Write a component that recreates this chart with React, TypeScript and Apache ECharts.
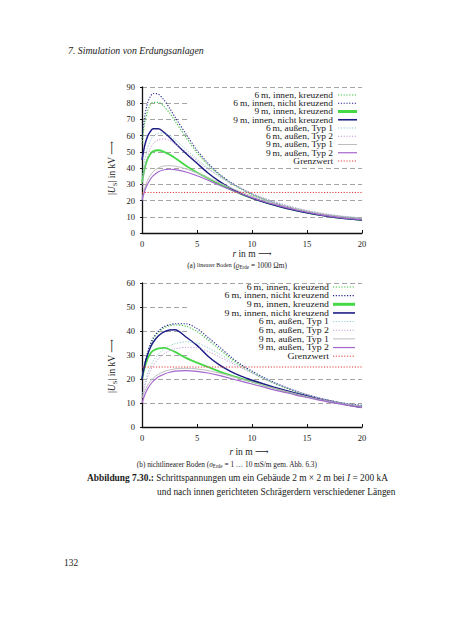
import React, { useEffect, useRef } from "react";
import * as echarts from "echarts";

// ---------- data ----------
const R = [0, 0.25, 0.5, 0.75, 1, 1.5, 2, 2.5, 3, 4, 5, 6, 7, 8, 9, 10, 11, 12, 13, 14, 15, 16, 17, 18, 19, 20];

const SERIES_NAMES = [
  "6\u2009m, innen, kreuzend",
  "6\u2009m, innen, nicht kreuzend",
  "9\u2009m, innen, kreuzend",
  "9\u2009m, innen, nicht kreuzend",
  "6\u2009m, außen, Typ 1",
  "6\u2009m, außen, Typ 2",
  "9\u2009m, außen, Typ 1",
  "9\u2009m, außen, Typ 2",
];
const GRENZ_NAME = "Grenzwert";
const GRENZWERT = 25;

// (a) linearer Boden
const lin6InnenKreuz = [55, 68, 75, 79, 80.5, 80.5, 78, 74, 69, 59, 49.5, 42, 36, 31, 27, 23.5, 21, 18.5, 16.5, 14.8, 13.3, 12, 11, 10.2, 9.5, 9];
const lin6InnenNicht = [58, 72, 80, 84, 86, 85.5, 82, 77, 71.5, 61, 51, 43, 36.5, 31.5, 27.5, 24, 21.2, 18.7, 16.6, 14.8, 13.3, 12, 11, 10.2, 9.5, 9];
const lin9InnenKreuz = [31, 40, 45.5, 48.5, 50.3, 51, 50, 48.3, 46.3, 41.5, 37.3, 33.8, 30.2, 27, 24, 21.5, 19.3, 17.3, 15.5, 14, 12.6, 11.3, 10.3, 9.4, 8.7, 8];
const lin9InnenNicht = [45, 54, 59.5, 62.5, 64.2, 64.3, 62, 59, 55.5, 49, 43, 37, 32, 27.8, 24.3, 21.5, 19.2, 17.2, 15.4, 13.8, 12.4, 11.2, 10.2, 9.3, 8.6, 8];
const lin6Aussen1 = [33, 45, 52, 56.5, 59.5, 61.5, 61.5, 60, 57.5, 51.5, 45.5, 40, 35, 31, 27.3, 24.2, 21.5, 19.2, 17.2, 15.4, 13.8, 12.5, 11.4, 10.5, 9.8, 9.3];
const lin6Aussen2 = [28, 40, 47, 52, 55, 57.5, 58, 57, 55, 50, 44.5, 39.5, 35, 31, 27.5, 24.5, 21.8, 19.4, 17.3, 15.5, 13.9, 12.6, 11.5, 10.6, 9.9, 9.3];
const lin9Aussen1 = [21, 28, 32.5, 35.5, 37.7, 40.2, 41.3, 41.5, 41.2, 39.5, 37, 34, 31, 28, 25.3, 22.8, 20.5, 18.4, 16.5, 14.8, 13.3, 12, 10.9, 10, 9.2, 8.6];
const lin9Aussen2 = [20, 26, 30, 33, 35.2, 37.8, 39, 39.3, 39.1, 37.6, 35.3, 32.5, 29.6, 26.8, 24.2, 21.8, 19.6, 17.6, 15.8, 14.2, 12.8, 11.5, 10.4, 9.5, 8.8, 8.2];

// (b) nichtlinearer Boden
const nl6InnenKreuz = [20, 26, 30.5, 34, 36.5, 39.5, 41.3, 42.2, 42.5, 42, 39.8, 36.3, 32.5, 28.8, 25.5, 22.7, 20.3, 18.2, 16.3, 14.7, 13.2, 12, 11, 10.1, 9.4, 8.8];
const nl6InnenNicht = [20, 26.5, 31, 34.5, 37, 40, 41.8, 42.6, 43, 43, 41, 37.3, 33.5, 29.5, 26, 23.3, 20.8, 18.6, 16.7, 15, 13.5, 12.2, 11.1, 10.2, 9.5, 9];
const nl9InnenKreuz = [20, 25, 28.3, 30.5, 31.8, 32.8, 33, 32.3, 31.3, 28.8, 26.8, 25, 23.2, 21.6, 20.2, 18.9, 17.6, 16.3, 15, 13.8, 12.7, 11.6, 10.7, 9.8, 9, 8.3];
const nl9InnenNicht = [20, 26, 30, 33, 35.2, 38, 39.6, 40.4, 40.5, 37.5, 34, 29.5, 26, 23.3, 21.2, 19.5, 18, 16.6, 15.3, 14.1, 13, 11.9, 10.9, 9.9, 9, 8.2];
const nl6Aussen1 = [13, 18, 22, 25, 27.3, 30.5, 32.5, 33.8, 34.7, 35.5, 35, 33, 30.5, 27.8, 25.2, 22.8, 20.5, 18.5, 16.7, 15, 13.5, 12.2, 11.1, 10.2, 9.4, 8.8];
const nl6Aussen2 = [12, 17, 20.5, 23.3, 25.5, 28.5, 30.5, 31.8, 32.6, 33.2, 33, 31.5, 29.3, 27, 24.7, 22.5, 20.3, 18.3, 16.6, 15, 13.5, 12.2, 11.1, 10.2, 9.4, 8.8];
const nl9Aussen1 = [12, 15, 17.3, 19, 20.3, 22, 23.1, 23.8, 24.2, 24.5, 24.2, 23.5, 22.5, 21.3, 20, 18.8, 17.5, 16.2, 15, 13.8, 12.7, 11.6, 10.7, 9.8, 9.1, 8.5];
const nl9Aussen2 = [10, 13.3, 15.8, 17.6, 19, 20.9, 22, 22.8, 23.3, 23.5, 23.2, 22.5, 21.5, 20.3, 19.1, 17.9, 16.7, 15.5, 14.4, 13.3, 12.3, 11.3, 10.4, 9.6, 8.8, 8.1];

const LINEAR = [lin6InnenKreuz, lin6InnenNicht, lin9InnenKreuz, lin9InnenNicht, lin6Aussen1, lin6Aussen2, lin9Aussen1, lin9Aussen2];
const NONLINEAR = [nl6InnenKreuz, nl6InnenNicht, nl9InnenKreuz, nl9InnenNicht, nl6Aussen1, nl6Aussen2, nl9Aussen1, nl9Aussen2];

const X_MAX = 20;
const X_INTERVAL = 5;
const Y_MAX_A = 90;
const Y_MAX_B = 60;
const Y_INTERVAL = 10;

// ---------- styles ----------
const DOT = [1.2, 1.6];
const STYLES = [
  { color: "#3cbf3c", width: 1.1, dash: DOT },
  { color: "#26268f", width: 1.1, dash: DOT },
  { color: "#47d847", width: 1.8, dash: null },
  { color: "#1e1e86", width: 1.5, dash: null },
  { color: "#8ccaca", width: 1, dash: DOT },
  { color: "#c49ad6", width: 1, dash: DOT },
  { color: "#bdbdbd", width: 1, dash: null },
  { color: "#a466cc", width: 1.2, dash: null },
];
const GRENZ_STYLE = { color: "#e03a3a", width: 1, dash: DOT };
const LEGEND_SAMPLE_WIDTH = [1.1, 1.1, 3, 1.6, 1, 1, 1, 1.2];

const FONT = "'Liberation Serif', 'DejaVu Serif', serif";
const TXT = "#1a1a1a";

const PANELS = [
  {
    data: LINEAR, yMax: Y_MAX_A,
    grid: { left: 142, top: 87, width: 220, height: 146 },
    legend: { textRight: 333, x1: 338, x2: 357, y0: 95, dy: 8.25, font: 8.1 },
    mask: { x: 188, y: 89, width: 174, height: 75 },
    yTitle: { x: 112, y: 168 },
    xTitle: { x: 252, y: 254 },
    caption: { x: 237, y: 265, text: "{n|(a)} {t|linearer Boden} {n|(}{i|ϱ}{s|Erde}{n| = 1000 Ωm)}" },
  },
  {
    data: NONLINEAR, yMax: Y_MAX_B,
    grid: { left: 142, top: 283, width: 220, height: 144 },
    legend: { textRight: 329, x1: 333, x2: 355, y0: 287, dy: 8.65, font: 8.5 },
    mask: { x: 188, y: 285, width: 174, height: 85 },
    yTitle: { x: 112, y: 366 },
    xTitle: { x: 249, y: 452 },
    caption: { x: 227, y: 464, text: "{n|(b) nichtlinearer Boden (}{i|σ}{s|Erde}{n| = 1 … 10 mS/m gem. Abb. 6.3)}" },
  },
];

const richStyles = (size: number) => ({
  i: { fontStyle: "italic", fontSize: size, fontFamily: FONT, color: TXT },
  s: { fontSize: size * 0.7, fontFamily: FONT, padding: [size * 0.45, 0, 0, 0], color: TXT },
  b: { fontWeight: "bold", fontSize: size, fontFamily: FONT, color: TXT },
  n: { fontSize: size, fontFamily: FONT, color: TXT },
  t: { fontSize: size * 0.8, fontFamily: FONT, color: TXT },
});

function textEl(x: number, y: number, text: string, size: number, align: string, extra: any = {}) {
  const useRich = text.indexOf("{") >= 0;
  const style: any = {
    text,
    fontSize: size,
    fontFamily: FONT,
    fill: TXT,
    align, verticalAlign: "middle",
    textAlign: align, textVerticalAlign: "middle",
    ...(extra.style || {}),
  };
  if (useRich) style.rich = richStyles(size);
  return { type: "text", x, y, z: 10, ...extra, style };
}

export default function App() {
  const ref = useRef<HTMLDivElement>(null);

  useEffect(() => {
    if (!ref.current) return;
    const chart = echarts.init(ref.current, undefined, { renderer: "svg" });

    const grids: any[] = [];
    const xAxes: any[] = [];
    const yAxes: any[] = [];
    const series: any[] = [];
    const graphics: any[] = [];

    PANELS.forEach((p, pi) => {
      grids.push({ ...p.grid, containLabel: false });
      xAxes.push({
        type: "value", gridIndex: pi, min: 0, max: X_MAX, interval: X_INTERVAL,
        axisLine: { show: true, onZero: false, lineStyle: { color: "#111", width: 1.3 } },
        axisTick: { show: true, inside: true, length: 3, lineStyle: { color: "#111" } },
        axisLabel: { fontSize: 8.5, fontFamily: FONT, color: TXT, margin: 6 },
        splitLine: { show: false },
      });
      yAxes.push({
        type: "value", gridIndex: pi, min: 0, max: p.yMax, interval: Y_INTERVAL,
        axisLine: { show: true, onZero: false, lineStyle: { color: "#111", width: 1.3 } },
        axisTick: { show: true, inside: false, length: 2, lineStyle: { color: "#111" } },
        axisLabel: { fontSize: 8.5, fontFamily: FONT, color: TXT, margin: 7 },
        splitLine: { show: true, lineStyle: { color: "#9a9a9a", width: 0.9, type: [5, 3] } },
      });

      p.data.forEach((arr, si) => {
        const st = STYLES[si];
        series.push({
          type: "line", name: SERIES_NAMES[si], xAxisIndex: pi, yAxisIndex: pi,
          data: R.map((r, k) => [r, arr[k]]),
          smooth: 0.3, symbol: "none", z: 3,
          lineStyle: { color: st.color, width: st.width, type: st.dash ? st.dash : "solid" },
        });
      });
      series.push({
        type: "line", name: GRENZ_NAME, xAxisIndex: pi, yAxisIndex: pi,
        data: [[0, GRENZWERT], [X_MAX, GRENZWERT]],
        symbol: "none", z: 3,
        lineStyle: { color: GRENZ_STYLE.color, width: GRENZ_STYLE.width, type: GRENZ_STYLE.dash },
      });

      // legend background (hides grid lines)
      graphics.push({ type: "rect", z: 1, shape: { ...p.mask }, style: { fill: "#fff" } });

      // legend entries
      const names = [...SERIES_NAMES, GRENZ_NAME];
      const styles = [...STYLES, GRENZ_STYLE];
      names.forEach((nm, k) => {
        const y = p.legend.y0 + k * p.legend.dy;
        graphics.push(textEl(p.legend.textRight, y, nm, p.legend.font, "right", { scaleX: 1.16 }));
        const st = styles[k];
        graphics.push({
          type: "line", z: 10,
          shape: { x1: p.legend.x1, y1: y, x2: p.legend.x2, y2: y },
          style: {
            stroke: st.color,
            lineWidth: k < LEGEND_SAMPLE_WIDTH.length ? LEGEND_SAMPLE_WIDTH[k] : st.width,
            lineDash: st.dash || null,
          },
        });
      });

      graphics.push(textEl(p.yTitle.x, p.yTitle.y, "{n||}{i|U}{s|S}{n|| in kV ⟶}", 9.5, "center", { rotation: Math.PI / 2 }));
      graphics.push(textEl(p.xTitle.x, p.xTitle.y, "{i|r}{n| in m ⟶}", 9.5, "center"));
      graphics.push(textEl(p.caption.x, p.caption.y, p.caption.text, 7.3, "center"));
    });

    graphics.push(textEl(68, 50, "7. Simulation von Erdungsanlagen", 9.8, "left", { style: { fontStyle: "italic" } }));
    graphics.push(textEl(87, 478, "{b|Abbildung 7.30.:}{n| Schrittspannungen um ein Gebäude 2 m × 2 m bei }{i|I}{n| = 200 kA}", 9.4, "left"));
    graphics.push(textEl(157, 492, "und nach innen gerichteten Schrägerdern verschiedener Längen", 9.4, "left"));
    graphics.push(textEl(64, 563, "132", 9.4, "left"));

    chart.setOption({
      animation: false,
      backgroundColor: "#fff",
      grid: grids,
      xAxis: xAxes,
      yAxis: yAxes,
      series,
      graphic: { elements: graphics },
    });

    return () => chart.dispose();
  }, []);

  return (
    <div
      ref={ref}
      style={{ position: "absolute", left: 0, top: 0, width: 453, height: 640, background: "#fff" }}
    />
  );
}
